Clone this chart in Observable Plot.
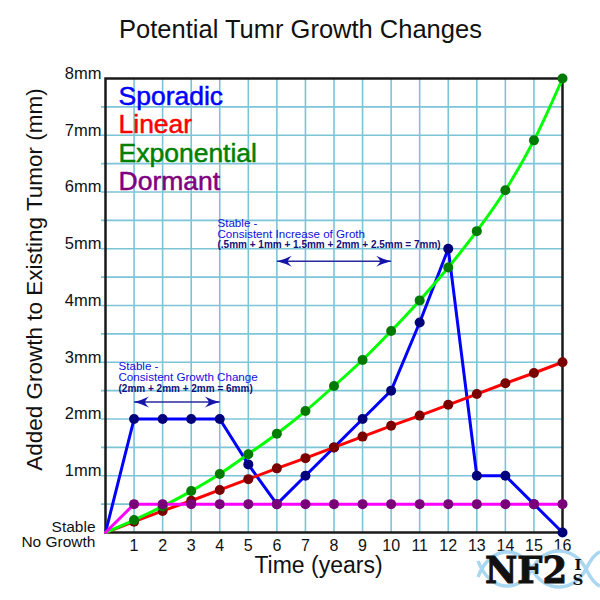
<!DOCTYPE html>
<html><head><meta charset="utf-8">
<script src="https://cdn.jsdelivr.net/npm/d3@7"></script>
<script src="https://cdn.jsdelivr.net/npm/@observablehq/plot@0.6"></script>
<style>html,body{margin:0;padding:0;background:#fff}</style>
</head><body><div id="chart"></div>
<script>
// ---- data ----
const years = [0,1,2,3,4,5,6,7,8,9,10,11,12,13,14,15,16];
const sporadic    = [0,2,2,2,2,1.2,0.5,1,1.5,2,2.5,3.7,5,1,1,0.5,0];
const linear      = [0,0.19,0.38,0.56,0.75,0.94,1.13,1.31,1.5,1.69,1.88,2.06,2.25,2.44,2.63,2.81,3];
const exponential = [0,0.22,0.46,0.73,1.03,1.38,1.74,2.14,2.58,3.04,3.55,4.09,4.67,5.31,6.03,6.91,8];
const dormant     = [0,0.5,0.5,0.5,0.5,0.5,0.5,0.5,0.5,0.5,0.5,0.5,0.5,0.5,0.5,0.5,0.5];
const seriesNames = ["Sporadic","Linear","Exponential","Dormant"];
const xTicks = [1,2,3,4,5,6,7,8,9,10,11,12,13,14,15,16];
const yTicks = [1,2,3,4,5,6,7,8];
const yTickLabels = ["1mm","2mm","3mm","4mm","5mm","6mm","7mm","8mm"];
const xGrid = [1,2,3,4,5,6,7,8,9,10,11,12,13,14,15];
const yGrid = [0.5,1,1.5,2,2.5,3,3.5,4,4.5,5,5.5,6,6.5,7,7.5];
const titleText = "Potential Tumr Growth Changes";
const xLabel = "Time (years)";
const yLabel = "Added Growth to Existing Tumor (mm)";
const zeroLabel = "Stable\nNo Growth";
const note1 = ["Stable -\nConsistent Growth Change", "(2mm + 2mm + 2mm = 6mm)"];
const note2 = ["Stable -\nConsistent Increase of Groth", "(.5mm + 1mm + 1.5mm + 2mm + 2.5mm = 7mm)"];
const arrowSpans = [{x1:1, x2:4, y:2.3}, {x1:6, x2:10, y:4.78}];

// ---- styles ----
const lineColors = ["#0000ff","#ff0000","#00ff00","#ff00ff"];
const dotColors  = ["#00007a","#7a0000","#007a00","#7a007a"];
const legendColors = ["#0000ff","#ff0000","#008000","#800080"];
const gridColor = "#7cc4d8";
const noteBlue = "#1010e0";
const noteNavy = "#10107a";

const allSeries = [sporadic, linear, exponential, dormant];
const rows = allSeries.map(vals => years.map((x,i) => ({x, y: vals[i]})));

const arrowHead = {
  draw(ctx) {
    ctx.moveTo(0, 0);
    ctx.quadraticCurveTo(8, -2, 15, -5.5);
    ctx.quadraticCurveTo(11, -1.5, 11, 0);
    ctx.quadraticCurveTo(11, 1.5, 15, 5.5);
    ctx.quadraticCurveTo(8, 2, 0, 0);
    ctx.closePath();
  }
};
const heads = arrowSpans.flatMap(s => [{x: s.x1, y: s.y, r: 0}, {x: s.x2, y: s.y, r: 180}]);

const seriesMarks = rows.flatMap((r, k) => [
  Plot.line(r, {x: "x", y: "y", stroke: lineColors[k], strokeWidth: 3,
    curve: k === 2 ? "catmull-rom" : "linear"}),
  Plot.dot(r.filter(d => d.x > 0), {x: "x", y: "y", r: 5, fill: dotColors[k], stroke: "none"})
]);

const chart = Plot.plot({
  width: 600, height: 600,
  marginLeft: 105, marginRight: 38, marginTop: 78, marginBottom: 68,
  style: {fontFamily: "'Liberation Sans', Arial, sans-serif", background: "#fff", overflow: "visible", color: "#111"},
  x: {domain: [0, 16]},
  y: {domain: [0, 8]},
  color: {type: "identity"},
  marks: [
    Plot.ruleX(xGrid, {stroke: gridColor, strokeWidth: 1.6}),
    Plot.ruleY(yGrid, {stroke: gridColor, strokeWidth: 1.6, insetLeft: -4}),
    Plot.frame({stroke: "#1a1a1a", strokeWidth: 2.5}),
    Plot.axisX(xTicks, {tickSize: 0, tickPadding: 7, fontSize: 16, label: null}),
    Plot.axisY(yTicks, {tickSize: 0, tickPadding: 4, fontSize: 16.5, dy: -5, label: null,
      tickFormat: d => yTickLabels[yTicks.indexOf(d)]}),
    Plot.text([zeroLabel], {x: 0, y: 0, text: d => d, textAnchor: "end", lineAnchor: "middle",
      dx: -10, dy: 2, fontSize: 15.5, lineHeight: 0.98, fill: "#111"}),
    // annotations
    Plot.text([note1[0]], {x: 0.455, y: 2.67, text: d => d, textAnchor: "start", lineAnchor: "bottom",
      fontSize: 11.6, lineHeight: 0.92, fill: noteBlue}),
    Plot.text([note1[1]], {x: 0.455, y: 2.475, text: d => d, textAnchor: "start", lineAnchor: "bottom",
      fontSize: 10, fontWeight: "bold", fill: noteNavy}),
    Plot.text([note2[0]], {x: 3.92, y: 5.19, text: d => d, textAnchor: "start", lineAnchor: "bottom",
      fontSize: 11.6, lineHeight: 0.92, fill: noteBlue}),
    Plot.text([note2[1]], {x: 3.92, y: 5.02, text: d => d, textAnchor: "start", lineAnchor: "bottom",
      fontSize: 10, fontWeight: "bold", fill: noteNavy}),
    Plot.link(arrowSpans, {x1: "x1", x2: "x2", y1: "y", y2: "y", stroke: "#2a2aa0", strokeWidth: 1.5, insetLeft: 8, insetRight: 8}),
    Plot.dot(heads, {x: "x", y: "y", rotate: "r", symbol: arrowHead, fill: "#1414a8", stroke: "none"}),
    ...seriesMarks,
    // legend
    Plot.text(seriesNames, {x: 0, y: (d, i) => 7.5 - 0.5 * i, text: d => d, fill: (d, i) => legendColors[i],
      stroke: (d, i) => legendColors[i], strokeWidth: 0.5,
      dx: 13, dy: -2, textAnchor: "start", lineAnchor: "bottom", fontSize: 26.5}),
    // titles
    Plot.text([titleText], {frameAnchor: "top", text: d => d, textAnchor: "middle", lineAnchor: "bottom", dx: -33.5, dy: -41, fontSize: 25.5, fill: "#111"}),
    Plot.text([xLabel], {frameAnchor: "bottom", text: d => d, textAnchor: "middle", lineAnchor: "bottom", dx: -15.5, dy: 40, fontSize: 23, fill: "#111"}),
    Plot.text([yLabel], {frameAnchor: "left", text: d => d, rotate: -90, textAnchor: "middle", lineAnchor: "middle", dx: -71, dy: -26, fontSize: 22.5, fill: "#111"})
  ]
});
document.getElementById("chart").appendChild(chart);

// ---- NF2IS logo (decorative) ----
const svg = d3.select(chart);
const logo = svg.append("g").attr("text-anchor", "start");
logo.append("path").attr("d", "M478,577 C490,545 520,545 532,569 C544,593 574,593 586,569 C592,557 597,553 600,552")
  .attr("fill", "none").attr("stroke", "#a9d7f2").attr("stroke-width", 3.5);
logo.append("path").attr("d", "M478,561 C490,593 520,593 532,569 C544,545 574,545 586,569 C592,581 597,585 600,586")
  .attr("fill", "none").attr("stroke", "#a9d7f2").attr("stroke-width", 3.5);
logo.append("text").text("NF2").attr("x", 485).attr("y", 583).attr("text-anchor", "start")
  .attr("font-family", "'DejaVu Serif', serif").attr("font-weight", "bold").attr("font-size", 37)
  .attr("textLength", 82).attr("lengthAdjust", "spacingAndGlyphs").attr("fill", "#111")
  .attr("stroke", "#111").attr("stroke-width", 1);
logo.append("text").text("I").attr("x", 578).attr("y", 570).attr("text-anchor", "middle")
  .attr("font-family", "'DejaVu Serif', serif").attr("font-weight", "bold").attr("font-size", 15).attr("fill", "#111");
logo.append("text").text("S").attr("x", 578).attr("y", 585).attr("text-anchor", "middle")
  .attr("font-family", "'DejaVu Serif', serif").attr("font-weight", "bold").attr("font-size", 15).attr("fill", "#111");
</script>
</body></html>
